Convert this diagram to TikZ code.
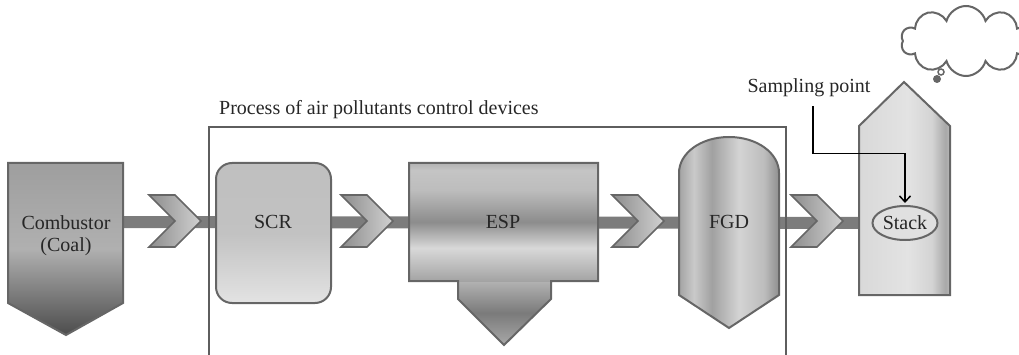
\documentclass[tikz,border=0pt]{standalone}
\usepackage{fontspec}
\setmainfont{Liberation Serif}
\usetikzlibrary{shapes.symbols,shapes.geometric,arrows.meta,backgrounds}

\definecolor{edgegray}{HTML}{666666}
\definecolor{flowgray}{HTML}{7C7C7C}
\definecolor{inkgray}{HTML}{262626}
\definecolor{framegray}{HTML}{5E5E5E}

% banded fills for the units
\pgfdeclareverticalshading{espbands}{100bp}{rgb(0bp)=(.64,.64,.64); rgb(25bp)=(.64,.64,.64);
  rgb(29.6bp)=(.71,.71,.71); rgb(39bp)=(.85,.85,.85); rgb(50bp)=(.55,.55,.55);
  rgb(63.5bp)=(.74,.74,.74); rgb(72bp)=(.77,.77,.77); rgb(75bp)=(.70,.70,.70); rgb(100bp)=(.70,.70,.70)}
\pgfdeclarehorizontalshading{drum}{100bp}{rgb(0bp)=(.64,.64,.64); rgb(25bp)=(.64,.64,.64);
  rgb(32.5bp)=(.79,.79,.79); rgb(41.5bp)=(.63,.63,.63); rgb(55bp)=(.83,.83,.83);
  rgb(67.5bp)=(.74,.74,.74); rgb(75bp)=(.56,.56,.56); rgb(100bp)=(.56,.56,.56)}
\pgfdeclarehorizontalshading{chimney}{100bp}{rgb(0bp)=(.85,.85,.85); rgb(25bp)=(.85,.85,.85);
  rgb(52bp)=(.89,.89,.89); rgb(65bp)=(.83,.83,.83); rgb(72.5bp)=(.66,.66,.66);
  rgb(75bp)=(.72,.72,.72); rgb(100bp)=(.72,.72,.72)}

\tikzset{
  unit/.style={draw=edgegray, line width=2pt, line join=miter},
  tag/.style={font=\fontsize{20}{22}\selectfont, text=inkgray, inner sep=0pt, align=center},
  chev/.style={signal, signal from=west, signal to=east, signal pointer angle=90,
    minimum width=50pt, minimum height=52pt, inner sep=0pt, outer sep=0pt,
    draw=edgegray, line width=1.6pt, left color=black!45, right color=black!18},
  flow/.style={flowgray, line width=12pt},
  probe/.style={black, line width=1.5pt, -{Straight Barb[length=6pt,width=11pt]}, shorten >=2pt}
}

\begin{document}
\begin{tikzpicture}[x=1pt, y=-1pt]
\useasboundingbox (0,0) rectangle (1019,355);

% combustor
\path[unit, top color=black!38, bottom color=black!70, middle color=black!31]
  (8,163) -- (123,163) -- (123,303) -- (66,335) -- (8,303) -- cycle;
\node[tag] (comb) at (66,236) {Combustor\\(Coal)};

% control devices
\draw[framegray, line width=2pt] (209,127) rectangle (786,362);
\node[tag, anchor=west] (proc) at (219,110) {Process of air pollutants control devices};

\path[unit, rounded corners=16pt, top color=black!25, bottom color=black!11, middle color=black!24]
  (216,163) rectangle (331,303);
\node[tag] (scr) at (273,222) {SCR};

\fill[top color=black!30, bottom color=black!34, middle color=black!52]
  (458,281) -- (458,299) -- (504,345) -- (551,299) -- (551,281) -- cycle;
\fill[shading=espbands] (409,163) rectangle (598,281);
\draw[unit] (409,163) -- (598,163) -- (598,281) -- (551,281) -- (551,299) -- (504,345)
  -- (458,299) -- (458,281) -- (409,281) -- cycle;
\node[tag] (esp) at (503,222) {ESP};

\path[unit, shading=drum] (679,295) -- (679,173)
  .. controls (679,153) and (701,137) .. (729,137)
  .. controls (757,137) and (779,153) .. (779,173)
  -- (779,295) -- (729,328) -- cycle;
\node[tag] (fgd) at (729,222) {FGD};

% stack and sampling
\path[unit, shading=chimney] (859,295) -- (859,126) -- (904,82) -- (950,126) -- (950,295) -- cycle;
\node[tag, ellipse, draw=edgegray, line width=2pt, fill=black!12,
  minimum width=65pt, minimum height=34pt] (stk) at (905,223) {Stack};
\node[tag] (samp) at (809,88) {Sampling point};
\draw[probe] ([xshift=4pt, yshift=-9pt]samp.south) -- ++(0,47) -| (stk.north);

% exhaust cloud
\node[cloud, cloud puffs=10, aspect=1.9, draw=edgegray, line width=2pt, fill=white,
  minimum width=130pt, minimum height=70pt, inner sep=0pt] (puff) at (966,41) {};
\draw[edgegray, line width=1.5pt] (941,72) circle (3pt);
\fill[edgegray] (937,79) circle (4pt);

% gas flow
\foreach \cx [count=\i] in {175,367,638,817}
  \node[chev] (chev\i) at (\cx,221) {};
\begin{scope}[on background layer]
  \draw[flow] (comb |- scr) -- (stk);
\end{scope}
\end{tikzpicture}
\end{document}
